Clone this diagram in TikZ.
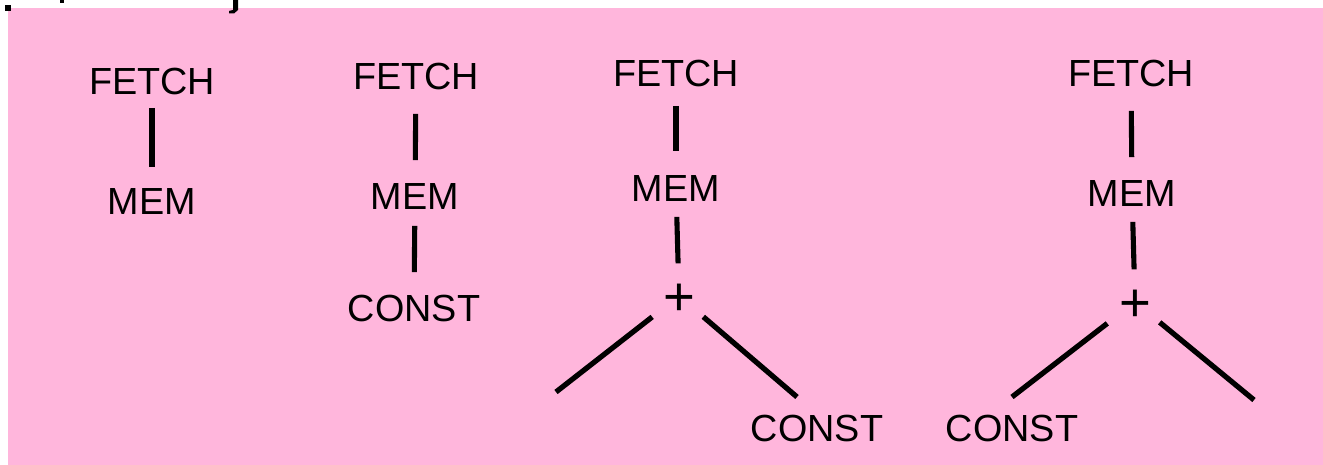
\documentclass[tikz,border=0pt]{standalone}
\usepackage{fontspec}
\setmainfont{Liberation Sans}
\definecolor{treebg}{RGB}{255,182,220}

\begin{document}
\begin{tikzpicture}[x=0.02cm,y=-0.02cm,
        op/.style={inner sep=0pt,text height=15.4pt,text depth=0pt,font=\fontsize{21.5}{26}\selectfont},
        plus/.style={inner sep=0pt,text height=21.9pt,text depth=0pt,font=\fontsize{31}{36}\selectfont},
        link/.style={line width=2.9pt,shorten <=0.36cm,shorten >=0.42cm},
        arm/.style={line width=3pt,shorten <=0.68cm}]
            \useasboundingbox (0,0) rectangle (1323,465);
            \fill[treebg] (8,8) rectangle (1323,465);
            % what is left of the heading line
            \fill (5,5) rectangle (11,11);
            \fill (60,0) rectangle (64,3);
            \fill (233,0) -- (238,0) -- (238,10) -- (234,13.5) -- (229,13.5) -- (229,11) -- (233,10) -- cycle;

            \node[op] (f1) at (152,81) {FETCH};
            \node[op] (m1) at (152,201) {MEM};
            \draw[link,shorten <=0.26cm,shorten >=0.4cm] (f1) -- (m1);

            \node[op] (f2) at (416,76) {FETCH};
            \node[op] (m2) at (415,196) {MEM};
            \node[op] (c2) at (414,308) {CONST};
            \draw[link,shorten <=0.48cm,shorten >=0.44cm] (f2) -- (m2);
            \draw[link,shorten <=0.32cm,shorten >=0.44cm] (m2) -- (c2);

            \node[op] (f3) at (676,73) {FETCH};
            \node[op] (m3) at (676,188) {MEM};
            \node[plus] (p3) at (679,296) {+};
            \node[op] (c3) at (817,428) {CONST};
            \coordinate (a3) at (556,392);
            \coordinate (b3) at (797,397);
            \draw[link,shorten <=0.38cm,shorten >=0.46cm] (f3) -- (m3);
            \draw[link,shorten <=0.3cm,shorten >=0.26cm] (m3) -- (p3);
            \draw[arm] (p3.center) -- (a3);
            \draw[arm,shorten <=0.64cm] (p3.center) -- (b3);

            \node[op] (f4) at (1131,73) {FETCH};
            \node[op] (m4) at (1132,193) {MEM};
            \node[plus] (p4) at (1135,302) {+};
            \node[op] (c4) at (1012,428) {CONST};
            \coordinate (a4) at (1012,397);
            \coordinate (b4) at (1254,400);
            \draw[link,shorten <=0.48cm,shorten >=0.44cm] (f4) -- (m4);
            \draw[link,shorten <=0.3cm,shorten >=0.26cm] (m4) -- (p4);
            \draw[arm,shorten <=0.7cm] (p4.center) -- (a4);
            \draw[arm,shorten <=0.64cm] (p4.center) -- (b4);
        \end{tikzpicture}
\end{document}
